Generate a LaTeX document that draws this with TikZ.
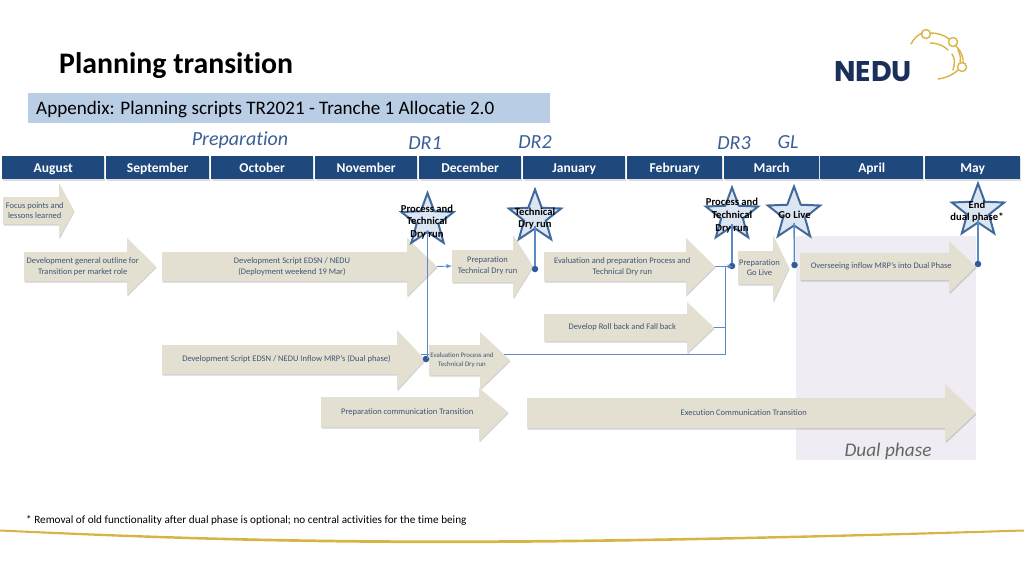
\documentclass[tikz,border=0pt]{standalone}
\usepackage{fontspec}
\setmainfont[Ligatures=NoCommon]{Carlito}
\newfontfamily\logofont{Poppins}
\usetikzlibrary{shapes.geometric,shadows}
\definecolor{barblue}{HTML}{1F497D}
\definecolor{bandblue}{HTML}{B9CDE5}
\definecolor{headblue}{HTML}{3A5F95}
\definecolor{arrowtan}{HTML}{E3E0D1}
\definecolor{arrowtext}{HTML}{3F5573}
\definecolor{linkblue}{HTML}{5B8AC4}
\definecolor{starfill}{HTML}{DCE6F2}
\definecolor{stardraw}{HTML}{41699B}
\definecolor{dotblue}{HTML}{2F5B9A}
\definecolor{dualfill}{HTML}{EFEDF3}
\definecolor{logogold}{HTML}{D8B445}
\definecolor{logonavy}{HTML}{1B2F5B}
\tikzset{
  monthbar/.style={fill=barblue,text=white,font=\fontsize{13.5}{15}\selectfont\bfseries,
    inner sep=0,anchor=west,minimum height=23pt,text height=10.5pt,text depth=1.5pt,
    drop shadow={shadow xshift=0.5pt,shadow yshift=-1.5pt,opacity=.25}},
  phasehead/.style={text=headblue,font=\fontsize{20}{22}\selectfont\itshape,inner sep=0},
  arrowtext/.style={text=arrowtext,font=\fontsize{8.5}{10.5}\selectfont,align=center,inner sep=0},
  milestar/.style={star,star points=5,star point ratio=2.4,minimum size=55pt,inner sep=0,outer sep=0,
    draw=stardraw,fill=starfill,line width=2pt},
  startext/.style={text=black,font=\fontsize{10.6}{12.7}\selectfont\bfseries,align=center,inner sep=0},
  stemline/.style={draw=linkblue,line width=1.5pt},
  flowline/.style={draw=linkblue,line width=.9pt},
  bluedot/.style={circle,fill=dotblue,minimum size=6.5pt,inner sep=0},
  goldline/.style={draw=logogold,line width=1.4pt,line cap=round}
}
% name, left, neck, tip, body top, body bottom, head top, head bottom, text
\newcommand{\flowarrow}[9]{
  \fill[arrowtan,drop shadow={shadow xshift=0.5pt,shadow yshift=-1.5pt,opacity=.35}]
    (#2,#5) -- (#3,#5) -- (#3,#7) -- (#4,{(#5+#6)/2}) -- (#3,#8) -- (#3,#6) -- (#2,#6) -- cycle;
  \coordinate (#1in) at (#2,{(#5+#6)/2});
  \coordinate (#1tip) at (#4,{(#5+#6)/2});
  \node[arrowtext] (#1) at ({(#2+#3)/2+(#4-#3)/4},{(#5+#6)/2}) {#9};
}
\begin{document}
\begin{tikzpicture}[x=1pt,y=-1pt]
\useasboundingbox (0,0) rectangle (1024,576);

% title
\node[anchor=west,inner sep=0,font=\fontsize{29.8}{32}\selectfont\bfseries] (title) at (59,66) {Planning transition};
\node[anchor=west,fill=bandblue,minimum width=522pt,minimum height=30pt,inner sep=0] (band) at (28,108) {};
\node[anchor=west,inner sep=0,font=\fontsize{19.1}{21}\selectfont] (bandtext) at (36,110) {Appendix: Planning scripts TR2021 - Tranche 1 Allocatie 2.0};

% logo
\node[anchor=center,inner sep=0,text=logonavy,font=\logofont\fontsize{28.5}{30}\selectfont\bfseries] (logo) at (873,72) {NEDU};
\scope[goldline]
\draw (911,44) .. controls (914,38) and (918,35) .. (922,33);
\draw (926,34) circle (4.5);
\draw (930,33) .. controls (938,33) and (944,35) .. (949,39);
\draw (953,42) circle (4.5);
\draw (956,46) .. controls (961,51) and (964,58) .. (963,63);
\draw (962,67) circle (4.5);
\draw (958,70) .. controls (953,75) and (946,78) .. (938,79);
\draw (930,43) .. controls (938,43) and (944,46) .. (948,50);
\draw (952,54) .. controls (955,58) and (955,64) .. (953,70);
\draw (958,50) .. controls (960,54) and (961,58) .. (960,62);
\endscope

% phases
\node[phasehead] (prep) at (240,140) {Preparation};
\node[phasehead] (dr1) at (425,143) {DR1};
\node[phasehead] (dr2) at (535,142.5) {DR2};
\node[phasehead] (dr3) at (734,143) {DR3};
\node[phasehead] (gl) at (788,142.5) {GL};

% months
\foreach \month/\xa/\xb in {August/2/104,September/106/209,October/211/313,November/315/417,
  December/419/521,January/523/625,February/627/722,March/724/819,April/820/923,May/925/1020}
  \node[monthbar,minimum width={(\xb-\xa)*1pt}] (\month) at (\xa,167.5) {\month};

% dual phase
\fill[dualfill] (796,236) rectangle (976,460);
\node[inner sep=0,text=black!60,font=\fontsize{19.3}{21}\selectfont\itshape] (dual) at (888,451) {Dual phase};

% arrows
\flowarrow{focus}{3}{59}{74}{197}{224}{183}{238}{Focus points and\\lessons learned}
\flowarrow{outline}{24}{127}{156}{252}{281}{238}{295}{Development general outline for\\Transition per market role}
\flowarrow{script}{162}{407}{437}{252}{281}{238}{296}{Development Script EDSN / NEDU\\(Deployment weekend 19 Mar)}
\flowarrow{preptech}{452}{513}{533}{250}{282}{235}{298}{Preparation\\Technical Dry run}
\flowarrow{evalprep}{544}{686}{715}{252}{281}{238}{295}{Evaluation and preparation Process and\\Technical Dry run}
\flowarrow{prepgo}{738}{773}{789}{251}{284}{235}{302}{Preparation\\Go Live}
\flowarrow{inflow}{800}{949}{976}{253}{280}{241}{293}{Overseeing inflow MRP's into Dual Phase}
\flowarrow{rollback}{544}{687}{714}{314}{341}{302}{353}{Develop Roll back and Fall back}
\flowarrow{dualscript}{162}{397}{425}{345}{374}{330}{390}{Development Script EDSN / NEDU Inflow MRP's (Dual phase)}
\flowarrow{evalproc}{429}{480}{510}{345}{375}{332}{389}{\fontsize{6.8}{8.6}\selectfont Evaluation Process and\\[-2pt]\fontsize{6.8}{8.6}\selectfont Technical Dry run}
\flowarrow{comm}{321}{479}{508}{397}{427}{388}{441}{Preparation communication Transition}
\flowarrow{exec}{527}{945}{976}{398}{428}{384}{442}{Execution Communication Transition}

% milestones
\node[milestar] (star1) at (427.5,220.5) {};
\node[milestar] (star2) at (535,217) {};
\node[milestar] (star3) at (732,215) {};
\node[milestar] (star4) at (794,214) {};
\node[milestar] (star5) at (978,211) {};
\node[bluedot] (dot1) at (426,359) {};
\node[bluedot] (dot2) at (535,269) {};
\node[bluedot] (dot3) at (732,266) {};
\node[bluedot] (dot4) at (794.5,265) {};
\node[bluedot] (dot5) at (978,264) {};
\draw[stemline,shorten <=9pt] (star1.center) -- (star1.center |- dot1);
\draw[stemline,shorten <=9pt] (star2.center) -- (dot2);
\draw[stemline,shorten <=9pt] (star3.center) -- (dot3);
\draw[stemline,shorten <=9pt] (star4.center) -- (dot4);
\draw[stemline,shorten <=9pt] (star5.center) -- (dot5);

% links
\coordinate (evalout) at (504,354);
\coordinate (joint) at (725,354);
\coordinate (dualjoin) at (421,354);
\coordinate (dualend) at (429,354);
\draw[flowline,-latex] (scripttip) -- (preptechin);
\draw[flowline,-latex] (evalpreptip) -- ++(18,0);
\draw[flowline] (evalout) -- (joint) -- (joint |- evalpreptip);
\draw[flowline] (rollbacktip) -- (rollbacktip -| joint);
\draw[flowline] (dualjoin) -- (dualend);

% star texts
\node[startext] (text1) at (427,222) {Process and\\Technical\\Dry run};
\node[startext] (text2) at (535,218.5) {Technical\\Dry run};
\node[startext] (text3) at (732,215.5) {Process and\\Technical\\Dry run};
\node[startext] (text4) at (794.5,215) {Go Live};
\node[startext] (text5) at (977,211.5) {End\\dual phase*};

% footnote
\node[anchor=west,inner sep=0,font=\fontsize{11.2}{13}\selectfont] (note) at (26,520) {* Removal of old functionality after dual phase is optional; no central activities for the time being};

% swoosh
\fill[logogold] (0,529.5) .. controls (300,543) and (500,545) .. (1024,529.5)
  -- (1024,531.5) .. controls (500,548) and (300,546) .. (0,531.5) -- cycle;
\end{tikzpicture}
\end{document}
